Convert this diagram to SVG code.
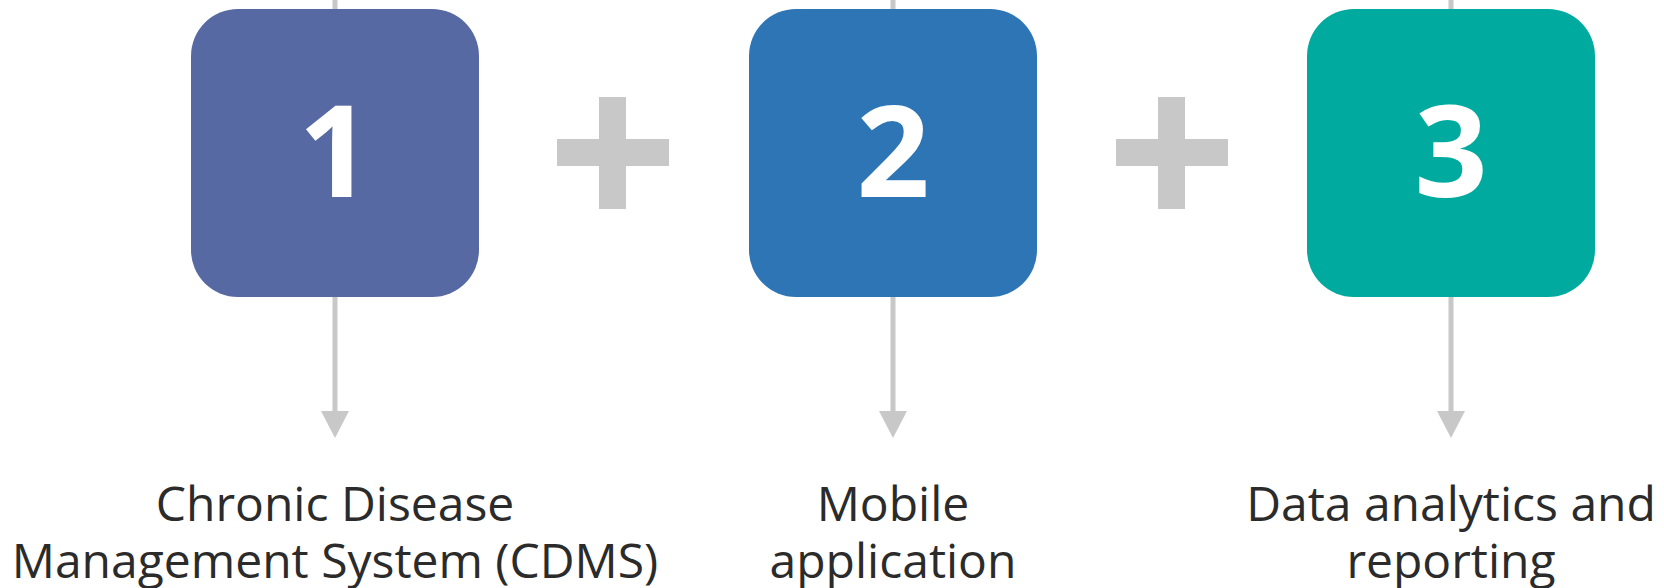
<svg xmlns="http://www.w3.org/2000/svg" width="1664" height="588" viewBox="0 0 1664 588">
  <style>
    .conn { stroke: #c8c8c8; stroke-width: 5; fill: none; }
    .head { fill: #c8c8c8; }
    .plus { fill: #c8c8c8; }
    .num { font-family: "Open Sans", "Liberation Sans", sans-serif; font-weight: 700; font-size: 128px; fill: #ffffff; text-anchor: middle; }
    .label { font-family: "Open Sans", "Liberation Sans", sans-serif; font-size: 48px; fill: #2b2b2b; text-anchor: middle; }
  </style>
  <rect width="1664" height="588" fill="#ffffff"/>
  <g id="connectors">
    <line class="conn" x1="335" y1="0" x2="335" y2="412"/>
    <polygon class="head" points="321,411 349,411 335,438"/>
    <line class="conn" x1="893" y1="0" x2="893" y2="412"/>
    <polygon class="head" points="879,411 907,411 893,438"/>
    <line class="conn" x1="1451" y1="0" x2="1451" y2="412"/>
    <polygon class="head" points="1437,411 1465,411 1451,438"/>
  </g>
  <g id="node1">
    <rect x="191" y="9" width="288" height="288" rx="47" fill="#5769A2"/>
    <text class="num" x="335" y="197">1</text>
  </g>
  <g id="plus1">
    <rect class="plus" x="599" y="97" width="27" height="112"/>
    <rect class="plus" x="557" y="139" width="112" height="27"/>
  </g>
  <g id="node2">
    <rect x="749" y="9" width="288" height="288" rx="47" fill="#2E75B6"/>
    <text class="num" x="893" y="197">2</text>
  </g>
  <g id="plus2">
    <rect class="plus" x="1158" y="97" width="27" height="112"/>
    <rect class="plus" x="1116" y="139" width="112" height="27"/>
  </g>
  <g id="node3">
    <rect x="1307" y="9" width="288" height="288" rx="47" fill="#00AA9E"/>
    <text class="num" x="1451" y="197">3</text>
  </g>
  <g id="label1">
    <text class="label" x="335" y="521">Chronic Disease</text>
    <text class="label" x="335" y="578">Management System (CDMS)</text>
  </g>
  <g id="label2">
    <text class="label" x="893" y="521">Mobile</text>
    <text class="label" x="893" y="578">application</text>
  </g>
  <g id="label3">
    <text class="label" x="1451" y="521">Data analytics and</text>
    <text class="label" x="1451" y="578">reporting</text>
  </g>
</svg>
